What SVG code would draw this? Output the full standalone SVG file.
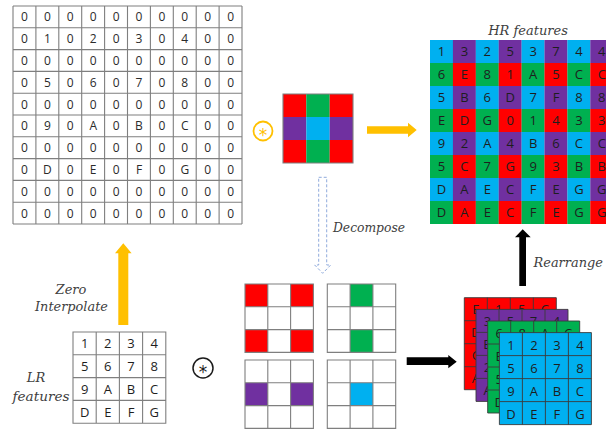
<svg xmlns="http://www.w3.org/2000/svg" width="606" height="431" viewBox="0 0 606 431">
<style>
.g{fill:none;stroke:#7f7f7f;stroke-width:1.1}
.d{stroke:#3a3a3a;stroke-width:0.9;fill:none}
.t{font-family:"Open Sans","Liberation Sans",sans-serif;font-size:12px;fill:#2b2b2b;text-anchor:middle}
.h{font-family:"Open Sans","Liberation Sans",sans-serif;font-size:13px;fill:#1e1e1e;text-anchor:middle}
.l{font-family:"DejaVu Serif","Liberation Serif",serif;font-style:italic;font-size:13px;fill:#404040}
.s{font-family:"DejaVu Sans",sans-serif;font-size:17px;text-anchor:middle}
.R{fill:#ff0000}.G{fill:#00b050}.B{fill:#00b0f0}.P{fill:#7030a0}
</style>
<rect width="606" height="431" fill="#ffffff"/>

<g id="zero-grid">
<rect x="13" y="6" width="229" height="218" fill="#fff"/>
<path class="g" d="M13 6V224M35.9 6V224M58.8 6V224M81.7 6V224M104.6 6V224M127.5 6V224M150.4 6V224M173.3 6V224M196.2 6V224M219.1 6V224M242 6V224M13 6H242M13 27.8H242M13 49.6H242M13 71.4H242M13 93.2H242M13 115H242M13 136.8H242M13 158.6H242M13 180.4H242M13 202.2H242M13 224H242"/>
<g class="t">
<text x="24.5" y="21.3">0</text><text x="47.4" y="21.3">0</text><text x="70.3" y="21.3">0</text><text x="93.2" y="21.3">0</text><text x="116.1" y="21.3">0</text><text x="139" y="21.3">0</text><text x="161.9" y="21.3">0</text><text x="184.8" y="21.3">0</text><text x="207.7" y="21.3">0</text><text x="230.6" y="21.3">0</text>
<text x="24.5" y="43.1">0</text><text x="47.4" y="43.1">1</text><text x="70.3" y="43.1">0</text><text x="93.2" y="43.1">2</text><text x="116.1" y="43.1">0</text><text x="139" y="43.1">3</text><text x="161.9" y="43.1">0</text><text x="184.8" y="43.1">4</text><text x="207.7" y="43.1">0</text><text x="230.6" y="43.1">0</text>
<text x="24.5" y="64.9">0</text><text x="47.4" y="64.9">0</text><text x="70.3" y="64.9">0</text><text x="93.2" y="64.9">0</text><text x="116.1" y="64.9">0</text><text x="139" y="64.9">0</text><text x="161.9" y="64.9">0</text><text x="184.8" y="64.9">0</text><text x="207.7" y="64.9">0</text><text x="230.6" y="64.9">0</text>
<text x="24.5" y="86.7">0</text><text x="47.4" y="86.7">5</text><text x="70.3" y="86.7">0</text><text x="93.2" y="86.7">6</text><text x="116.1" y="86.7">0</text><text x="139" y="86.7">7</text><text x="161.9" y="86.7">0</text><text x="184.8" y="86.7">8</text><text x="207.7" y="86.7">0</text><text x="230.6" y="86.7">0</text>
<text x="24.5" y="108.5">0</text><text x="47.4" y="108.5">0</text><text x="70.3" y="108.5">0</text><text x="93.2" y="108.5">0</text><text x="116.1" y="108.5">0</text><text x="139" y="108.5">0</text><text x="161.9" y="108.5">0</text><text x="184.8" y="108.5">0</text><text x="207.7" y="108.5">0</text><text x="230.6" y="108.5">0</text>
<text x="24.5" y="130.3">0</text><text x="47.4" y="130.3">9</text><text x="70.3" y="130.3">0</text><text x="93.2" y="130.3">A</text><text x="116.1" y="130.3">0</text><text x="139" y="130.3">B</text><text x="161.9" y="130.3">0</text><text x="184.8" y="130.3">C</text><text x="207.7" y="130.3">0</text><text x="230.6" y="130.3">0</text>
<text x="24.5" y="152.1">0</text><text x="47.4" y="152.1">0</text><text x="70.3" y="152.1">0</text><text x="93.2" y="152.1">0</text><text x="116.1" y="152.1">0</text><text x="139" y="152.1">0</text><text x="161.9" y="152.1">0</text><text x="184.8" y="152.1">0</text><text x="207.7" y="152.1">0</text><text x="230.6" y="152.1">0</text>
<text x="24.5" y="173.9">0</text><text x="47.4" y="173.9">D</text><text x="70.3" y="173.9">0</text><text x="93.2" y="173.9">E</text><text x="116.1" y="173.9">0</text><text x="139" y="173.9">F</text><text x="161.9" y="173.9">0</text><text x="184.8" y="173.9">G</text><text x="207.7" y="173.9">0</text><text x="230.6" y="173.9">0</text>
<text x="24.5" y="195.7">0</text><text x="47.4" y="195.7">0</text><text x="70.3" y="195.7">0</text><text x="93.2" y="195.7">0</text><text x="116.1" y="195.7">0</text><text x="139" y="195.7">0</text><text x="161.9" y="195.7">0</text><text x="184.8" y="195.7">0</text><text x="207.7" y="195.7">0</text><text x="230.6" y="195.7">0</text>
<text x="24.5" y="217.5">0</text><text x="47.4" y="217.5">0</text><text x="70.3" y="217.5">0</text><text x="93.2" y="217.5">0</text><text x="116.1" y="217.5">0</text><text x="139" y="217.5">0</text><text x="161.9" y="217.5">0</text><text x="184.8" y="217.5">0</text><text x="207.7" y="217.5">0</text><text x="230.6" y="217.5">0</text>
</g>
</g>

<g id="conv-symbol-top">
<circle cx="263" cy="131" r="9.5" fill="none" stroke="#ffc000" stroke-width="1.8"/>
<text class="s" x="263" y="141" fill="#ffc000">*</text>
</g>

<g id="kernel">
<rect class="R" x="283" y="94" width="23.3" height="23"/><rect class="G" x="306.3" y="94" width="23.4" height="23"/><rect class="R" x="329.7" y="94" width="23.3" height="23"/>
<rect class="P" x="283" y="117" width="23.3" height="23"/><rect class="B" x="306.3" y="117" width="23.4" height="23"/><rect class="P" x="329.7" y="117" width="23.3" height="23"/>
<rect class="R" x="283" y="140" width="23.3" height="23"/><rect class="G" x="306.3" y="140" width="23.4" height="23"/><rect class="R" x="329.7" y="140" width="23.3" height="23"/>
<path class="g" d="M283 94H353V163H283Z"/>
</g>

<g id="hr-features">
<text class="l" x="528" y="35" text-anchor="middle" font-size="14">HR features</text>
<g>
<rect class="B" x="430" y="40" width="23" height="23"/><rect class="P" x="452.9" y="40" width="23" height="23"/><rect class="B" x="475.8" y="40" width="23" height="23"/><rect class="P" x="498.7" y="40" width="23" height="23"/><rect class="B" x="521.6" y="40" width="23" height="23"/><rect class="P" x="544.5" y="40" width="23" height="23"/><rect class="B" x="567.4" y="40" width="23" height="23"/><rect class="P" x="590.3" y="40" width="23" height="23"/>
<rect class="G" x="430" y="63" width="23" height="23"/><rect class="R" x="452.9" y="63" width="23" height="23"/><rect class="G" x="475.8" y="63" width="23" height="23"/><rect class="R" x="498.7" y="63" width="23" height="23"/><rect class="G" x="521.6" y="63" width="23" height="23"/><rect class="R" x="544.5" y="63" width="23" height="23"/><rect class="G" x="567.4" y="63" width="23" height="23"/><rect class="R" x="590.3" y="63" width="23" height="23"/>
<rect class="B" x="430" y="86" width="23" height="23"/><rect class="P" x="452.9" y="86" width="23" height="23"/><rect class="B" x="475.8" y="86" width="23" height="23"/><rect class="P" x="498.7" y="86" width="23" height="23"/><rect class="B" x="521.6" y="86" width="23" height="23"/><rect class="P" x="544.5" y="86" width="23" height="23"/><rect class="B" x="567.4" y="86" width="23" height="23"/><rect class="P" x="590.3" y="86" width="23" height="23"/>
<rect class="G" x="430" y="109" width="23" height="23"/><rect class="R" x="452.9" y="109" width="23" height="23"/><rect class="G" x="475.8" y="109" width="23" height="23"/><rect class="R" x="498.7" y="109" width="23" height="23"/><rect class="G" x="521.6" y="109" width="23" height="23"/><rect class="R" x="544.5" y="109" width="23" height="23"/><rect class="G" x="567.4" y="109" width="23" height="23"/><rect class="R" x="590.3" y="109" width="23" height="23"/>
<rect class="B" x="430" y="132" width="23" height="23"/><rect class="P" x="452.9" y="132" width="23" height="23"/><rect class="B" x="475.8" y="132" width="23" height="23"/><rect class="P" x="498.7" y="132" width="23" height="23"/><rect class="B" x="521.6" y="132" width="23" height="23"/><rect class="P" x="544.5" y="132" width="23" height="23"/><rect class="B" x="567.4" y="132" width="23" height="23"/><rect class="P" x="590.3" y="132" width="23" height="23"/>
<rect class="G" x="430" y="155" width="23" height="23"/><rect class="R" x="452.9" y="155" width="23" height="23"/><rect class="G" x="475.8" y="155" width="23" height="23"/><rect class="R" x="498.7" y="155" width="23" height="23"/><rect class="G" x="521.6" y="155" width="23" height="23"/><rect class="R" x="544.5" y="155" width="23" height="23"/><rect class="G" x="567.4" y="155" width="23" height="23"/><rect class="R" x="590.3" y="155" width="23" height="23"/>
<rect class="B" x="430" y="178" width="23" height="23"/><rect class="P" x="452.9" y="178" width="23" height="23"/><rect class="B" x="475.8" y="178" width="23" height="23"/><rect class="P" x="498.7" y="178" width="23" height="23"/><rect class="B" x="521.6" y="178" width="23" height="23"/><rect class="P" x="544.5" y="178" width="23" height="23"/><rect class="B" x="567.4" y="178" width="23" height="23"/><rect class="P" x="590.3" y="178" width="23" height="23"/>
<rect class="G" x="430" y="201" width="23" height="23"/><rect class="R" x="452.9" y="201" width="23" height="23"/><rect class="G" x="475.8" y="201" width="23" height="23"/><rect class="R" x="498.7" y="201" width="23" height="23"/><rect class="G" x="521.6" y="201" width="23" height="23"/><rect class="R" x="544.5" y="201" width="23" height="23"/><rect class="G" x="567.4" y="201" width="23" height="23"/><rect class="R" x="590.3" y="201" width="23" height="23"/>
</g>
<g class="h">
<text x="441.5" y="56">1</text><text x="464.4" y="56">3</text><text x="487.3" y="56">2</text><text x="510.2" y="56">5</text><text x="533.1" y="56">3</text><text x="556" y="56">7</text><text x="578.9" y="56">4</text><text x="601.8" y="56">4</text>
<text x="441.5" y="79">6</text><text x="464.4" y="79">E</text><text x="487.3" y="79">8</text><text x="510.2" y="79">1</text><text x="533.1" y="79">A</text><text x="556" y="79">5</text><text x="578.9" y="79">C</text><text x="601.8" y="79">C</text>
<text x="441.5" y="102">5</text><text x="464.4" y="102">B</text><text x="487.3" y="102">6</text><text x="510.2" y="102">D</text><text x="533.1" y="102">7</text><text x="556" y="102">F</text><text x="578.9" y="102">8</text><text x="601.8" y="102">8</text>
<text x="441.5" y="125">E</text><text x="464.4" y="125">D</text><text x="487.3" y="125">G</text><text x="510.2" y="125">0</text><text x="533.1" y="125">1</text><text x="556" y="125">4</text><text x="578.9" y="125">3</text><text x="601.8" y="125">3</text>
<text x="441.5" y="148">9</text><text x="464.4" y="148">2</text><text x="487.3" y="148">A</text><text x="510.2" y="148">4</text><text x="533.1" y="148">B</text><text x="556" y="148">6</text><text x="578.9" y="148">C</text><text x="601.8" y="148">C</text>
<text x="441.5" y="171">5</text><text x="464.4" y="171">C</text><text x="487.3" y="171">7</text><text x="510.2" y="171">G</text><text x="533.1" y="171">9</text><text x="556" y="171">3</text><text x="578.9" y="171">B</text><text x="601.8" y="171">B</text>
<text x="441.5" y="194">D</text><text x="464.4" y="194">A</text><text x="487.3" y="194">E</text><text x="510.2" y="194">C</text><text x="533.1" y="194">F</text><text x="556" y="194">E</text><text x="578.9" y="194">G</text><text x="601.8" y="194">G</text>
<text x="441.5" y="217">D</text><text x="464.4" y="217">A</text><text x="487.3" y="217">E</text><text x="510.2" y="217">C</text><text x="533.1" y="217">F</text><text x="556" y="217">E</text><text x="578.9" y="217">G</text><text x="601.8" y="217">G</text>
</g>
</g>

<g id="sub-kernel-red">
<rect class="R" x="245" y="284" width="22.8" height="22.8"/><rect class="R" x="290.6" y="284" width="22.8" height="22.8"/><rect class="R" x="245" y="329.6" width="22.8" height="22.8"/><rect class="R" x="290.6" y="329.6" width="22.8" height="22.8"/>
<path class="g" d="M245 284H313.4V352.4H245ZM267.8 284V352.4M290.6 284V352.4M245 306.8H313.4M245 329.6H313.4"/>
</g>
<g id="sub-kernel-green">
<rect class="G" x="350.1" y="284" width="22.8" height="22.8"/><rect class="G" x="350.1" y="329.6" width="22.8" height="22.8"/>
<path class="g" d="M327.3 284H395.7V352.4H327.3ZM350.1 284V352.4M372.9 284V352.4M327.3 306.8H395.7M327.3 329.6H395.7"/>
</g>
<g id="sub-kernel-purple">
<rect class="P" x="245" y="382.8" width="22.8" height="22.8"/><rect class="P" x="290.6" y="382.8" width="22.8" height="22.8"/>
<path class="g" d="M245 360H313.4V428.4H245ZM267.8 360V428.4M290.6 360V428.4M245 382.8H313.4M245 405.6H313.4"/>
</g>
<g id="sub-kernel-blue">
<rect class="B" x="350.1" y="382.8" width="22.8" height="22.8"/>
<path class="g" d="M327.3 360H395.7V428.4H327.3ZM350.1 360V428.4M372.9 360V428.4M327.3 382.8H395.7M327.3 405.6H395.7"/>
</g>

<g id="lr-features">
<path class="g" d="M73 332H165.8V423.2H73ZM96.2 332V423.2M119.4 332V423.2M142.6 332V423.2M73 354.8H165.8M73 377.6H165.8M73 400.4H165.8"/>
<g class="h">
<text x="84.6" y="348">1</text><text x="107.8" y="348">2</text><text x="131" y="348">3</text><text x="154.2" y="348">4</text>
<text x="84.6" y="371">5</text><text x="107.8" y="371">6</text><text x="131" y="371">7</text><text x="154.2" y="371">8</text>
<text x="84.6" y="394">9</text><text x="107.8" y="394">A</text><text x="131" y="394">B</text><text x="154.2" y="394">C</text>
<text x="84.6" y="417">D</text><text x="107.8" y="417">E</text><text x="131" y="417">F</text><text x="154.2" y="417">G</text>
</g>
<text class="l" x="36" y="382" text-anchor="middle" font-size="14">LR</text>
<text class="l" x="41" y="401" text-anchor="middle" font-size="14" textLength="57" lengthAdjust="spacingAndGlyphs">features</text>
</g>

<g id="conv-symbol-bottom">
<circle cx="203" cy="368" r="10" fill="none" stroke="#1a1a1a" stroke-width="1.5"/>
<text class="s" x="203" y="378" fill="#1a1a1a">*</text>
</g>

<g id="feature-stack">
<g>
<rect class="R" x="464.3" y="297.7" width="92" height="92"/>
<path class="d" d="M464.3 297.7h92v92h-92ZM487.3 297.7v92M510.3 297.7v92M533.3 297.7v92M464.3 320.7h92M464.3 343.7h92M464.3 366.7h92"/>
<g class="h" font-size="14"><text x="475.8" y="314">E</text><text x="498.8" y="314">1</text><text x="521.8" y="314">5</text><text x="544.8" y="314">C</text>
<text x="475.8" y="337">D</text><text x="475.8" y="360">C</text><text x="475.8" y="383">A</text></g>
</g>
<g>
<rect class="P" x="476" y="309.4" width="92" height="92"/>
<path class="d" d="M476 309.4h92v92h-92ZM499 309.4v92M522 309.4v92M545 309.4v92M476 332.4h92M476 355.4h92M476 378.4h92"/>
<g class="h"><text x="487.5" y="326">3</text><text x="510.5" y="326">5</text><text x="533.5" y="326">7</text><text x="556.5" y="326">4</text>
<text x="487.5" y="349">B</text><text x="487.5" y="372">2</text><text x="487.5" y="395">A</text></g>
</g>
<g>
<rect class="G" x="487.7" y="321" width="92" height="92"/>
<path class="d" d="M487.7 321h92v92h-92ZM510.7 321v92M533.7 321v92M556.7 321v92M487.7 344h92M487.7 367h92M487.7 390h92"/>
<g class="h"><text x="499.2" y="337.5">6</text><text x="522.2" y="337.5">8</text><text x="545.2" y="337.5">A</text><text x="568.2" y="337.5">C</text>
<text x="499.2" y="360.5">E</text><text x="499.2" y="383.5">5</text><text x="499.2" y="406.5">D</text></g>
</g>
<g>
<rect class="B" x="499.4" y="332.6" width="92" height="92"/>
<path class="d" d="M499.4 332.6h92v92h-92ZM522.4 332.6v92M545.4 332.6v92M568.4 332.6v92M499.4 355.6h92M499.4 378.6h92M499.4 401.6h92"/>
<g class="h" font-size="14"><text x="510.9" y="349.5">1</text><text x="533.9" y="349.5">2</text><text x="556.9" y="349.5">3</text><text x="579.9" y="349.5">4</text>
<text x="510.9" y="372.5">5</text><text x="533.9" y="372.5">6</text><text x="556.9" y="372.5">7</text><text x="579.9" y="372.5">8</text>
<text x="510.9" y="395.5">9</text><text x="533.9" y="395.5">A</text><text x="556.9" y="395.5">B</text><text x="579.9" y="395.5">C</text>
<text x="510.9" y="418.5">D</text><text x="533.9" y="418.5">E</text><text x="556.9" y="418.5">F</text><text x="579.9" y="418.5">G</text></g>
</g>
</g>

<g id="connectors">
<path d="M118.3 325V253.3H115L123.3 243.3L131.6 253.3H128.3V325Z" fill="#ffc000"/>
<path d="M367 126.3H408V122.7L416.7 130L408 137.3V133.7H367Z" fill="#ffc000"/>
<path d="M318.7 177.3H326.7V265H330.7L322.7 273.3L314.7 265H318.7Z" fill="none" stroke="#8faadc" stroke-width="1" stroke-dasharray="3,2"/>
<path d="M406.7 357.3H448.3V355L456.7 361.7L448.3 368.3V365H406.7Z" fill="#000"/>
<path d="M519.3 286V237.3H515L522.7 229.3L530.7 237.3H526V286Z" fill="#000"/>
<text class="l" x="71" y="294" text-anchor="middle" font-size="14">Zero</text>
<text class="l" x="71.5" y="311" text-anchor="middle" font-size="14" textLength="73" lengthAdjust="spacingAndGlyphs">Interpolate</text>
<text class="l" x="333" y="232" font-size="14" textLength="72" lengthAdjust="spacingAndGlyphs">Decompose</text>
<text class="l" x="533.5" y="267" font-size="14" textLength="69.5" lengthAdjust="spacingAndGlyphs">Rearrange</text>
</g>
</svg>
